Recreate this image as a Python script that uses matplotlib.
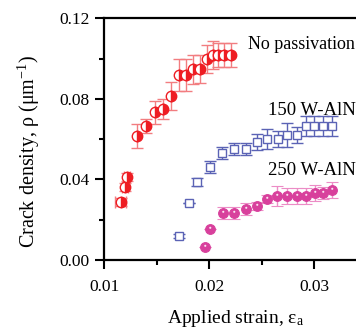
import matplotlib
matplotlib.use("Agg")
import matplotlib.pyplot as plt
from matplotlib.ticker import MultipleLocator
from matplotlib.path import Path
import numpy as np

plt.rcParams['font.family'] = ['Liberation Serif', 'DejaVu Serif']
plt.rcParams['mathtext.fontset'] = 'custom'
plt.rcParams['mathtext.rm'] = 'Liberation Serif'
plt.rcParams['mathtext.it'] = 'Liberation Serif'

# No passivation
np_x = [0.01155, 0.01196, 0.01218, 0.01307, 0.01396, 0.01482, 0.01561, 0.01635,
        0.01711, 0.01781, 0.01842, 0.01912, 0.01976, 0.02039, 0.02087, 0.02144, 0.02208]
np_y = [0.0289, 0.0364, 0.0413, 0.0615, 0.0665, 0.0733, 0.0748, 0.0815,
        0.0918, 0.0918, 0.0946, 0.0948, 0.0996, 0.1016, 0.1016, 0.1016, 0.1016]
np_err = [0.002, 0.002, 0.002, 0.0058, 0.0035, 0.0058, 0.005, 0.007,
          0.008, 0.008, 0.007, 0.007, 0.007, 0.007, 0.006, 0.006, 0.006]
np_xerr = [0.0005, 0.0003, 0.0003, 0, 0, 0, 0, 0, 0, 0, 0, 0, 0, 0, 0, 0, 0]

# 150 W-AlN
a150_x = [0.01711, 0.01810, 0.01880, 0.02007, 0.02125, 0.02239, 0.02351, 0.02459,
          0.02554, 0.02653, 0.02745, 0.02835, 0.02924, 0.03003, 0.03089, 0.03175]
a150_y = [0.0119, 0.0281, 0.0389, 0.0463, 0.0533, 0.0549, 0.0549, 0.0584,
          0.0602, 0.0602, 0.0619, 0.0619, 0.0667, 0.0667, 0.0667, 0.0667]
a150_err = [0.001, 0.0, 0.002, 0.003, 0.003, 0.003, 0.003, 0.004,
            0.005, 0.004, 0.006, 0.004, 0.005, 0.005, 0.005, 0.005]

# 250 W-AlN
a250_x = [0.01959, 0.02007, 0.02128, 0.02236, 0.02351, 0.02459, 0.02554, 0.02650,
          0.02745, 0.02835, 0.02921, 0.03010, 0.03089, 0.03169]
a250_y = [0.0066, 0.0152, 0.0232, 0.0232, 0.0252, 0.0268, 0.0301, 0.0318,
          0.0318, 0.0318, 0.0318, 0.0334, 0.0334, 0.0347]
a250_err = [0.0, 0.0, 0.003, 0.003, 0.003, 0.002, 0.002, 0.005,
            0.004, 0.004, 0.004, 0.004, 0.003, 0.004]

labels = ["No passivation", "150 W-AlN", "250 W-AlN"]

fig = plt.figure(figsize=(3.56, 3.35), dpi=100)
ax = fig.add_axes([0.2935, 0.2239, 0.7065, 0.7215])

red = '#ee1d23'
blue = '#5b63b5'
mag = '#d8409c'

ax.errorbar(np_x, np_y, yerr=np_err, xerr=np_xerr, fmt='o', ms=7.5,
            color=red, mec=red, mfc=red, mfcalt='white', fillstyle='right',
            ecolor='#f27d80', elinewidth=1.0, capsize=4, capthick=1.0, mew=1.0, zorder=3)
ax.errorbar(a150_x, a150_y, yerr=a150_err, fmt='s', ms=6,
            color=blue, mec=blue, mfc='white', ecolor=blue,
            elinewidth=1.0, capsize=4, capthick=1.0, mew=1.0, zorder=3)
ax.errorbar(a250_x, a250_y, yerr=a250_err, fmt='o', ms=7,
            color=mag, mec=mag, mfc=mag, ecolor='#ec8cc6',
            elinewidth=1.0, capsize=4, capthick=1.0, mew=0.8, zorder=3)

# highlight marker: small offset dot inside a unit box (box corners as MOVETOs)
t = np.linspace(0, 2 * np.pi, 25)
hv = np.column_stack([0.22 * np.cos(t) - 0.05, 0.22 * np.sin(t) + 0.35])
verts = np.vstack([[[-1, -1]], [[1, 1]], hv])
codes = [Path.MOVETO, Path.MOVETO, Path.MOVETO] + [Path.LINETO] * (len(hv) - 2) + [Path.CLOSEPOLY]
hl = Path(verts, codes)
ax.plot(a250_x, a250_y, linestyle='none', marker=hl, ms=7, mfc='#fbe3f1', mec='none', zorder=4)

ax.set_xlim(0.01, 0.034)
ax.set_ylim(0.0, 0.12)
ax.xaxis.set_minor_locator(MultipleLocator(0.005))
ax.yaxis.set_minor_locator(MultipleLocator(0.02))
ax.set_xticks([0.01, 0.02, 0.03])
ax.set_xticklabels(['0.01', '0.02', '0.03'])
ax.set_yticks([0.0, 0.04, 0.08, 0.12])
ax.set_yticklabels(['0.00', '0.04', '0.08', '0.12'])

ax.spines['right'].set_visible(False)
for s in ['left', 'bottom', 'top']:
    ax.spines[s].set_linewidth(1.6)
ax.tick_params(which='major', direction='out', length=6.5, width=1.5, labelsize=12.5, pad=4)
ax.tick_params(which='minor', direction='out', length=3.8, width=1.5)
ax.tick_params(axis='x', pad=7)

ax.set_ylabel(r'Crack density, ρ (μm$^{\mathregular{-1}}$)', fontsize=14.5)
ax.yaxis.set_label_coords(-0.25, 0.45)
ax.set_xlabel(r'Applied strain, ε$_{\mathregular{a}}$', fontsize=14)
ax.xaxis.set_label_coords(0.52, -0.20)

ax.text(0.995, 0.89, labels[0], transform=ax.transAxes, ha='right', va='center', fontsize=13)
ax.text(1.0, 0.62, labels[1], transform=ax.transAxes, ha='right', va='center', fontsize=13.5)
ax.text(1.0, 0.37, labels[2], transform=ax.transAxes, ha='right', va='center', fontsize=13.5)

fig.savefig('out.png', dpi=100)
